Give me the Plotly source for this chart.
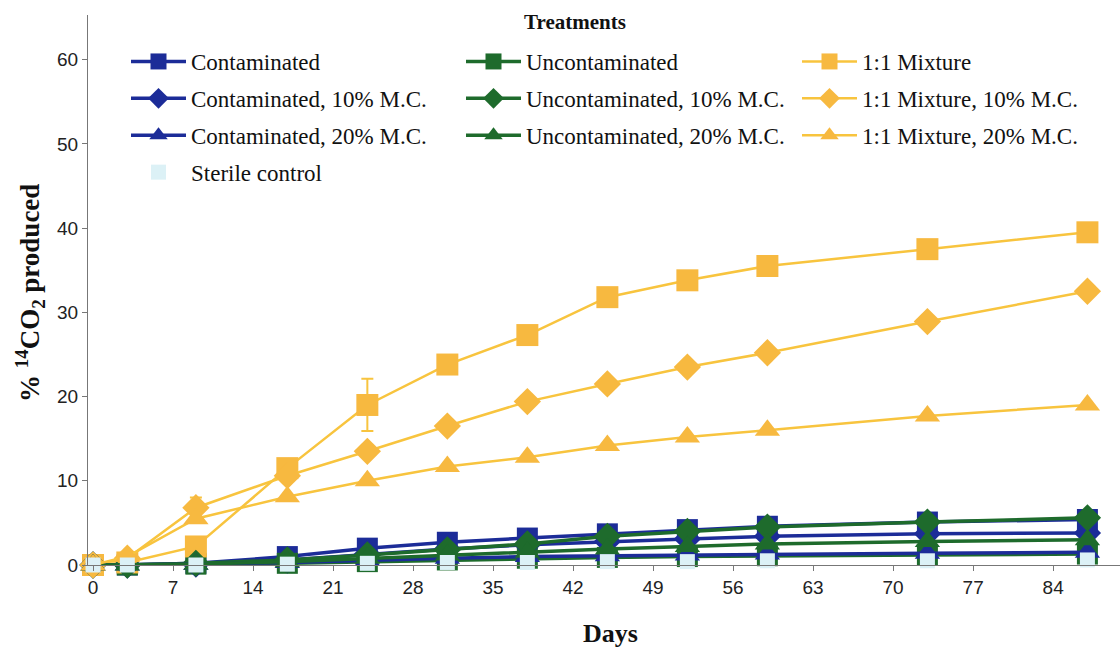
import plotly.graph_objects as go

days = [0, 3, 9, 17, 24, 31, 38, 45, 52, 59, 73, 87]

contaminated = [0, 0, 0.2, 1.0, 2.0, 2.7, 3.2, 3.7, 4.2, 4.6, 5.1, 5.4]
contaminated_10 = [0, 0, 0.1, 0.6, 1.3, 1.9, 2.4, 2.8, 3.1, 3.4, 3.7, 3.8]
contaminated_20 = [0, 0, 0.1, 0.3, 0.6, 0.8, 1.0, 1.1, 1.2, 1.3, 1.4, 1.5]
uncontaminated = [0, 0, 0.1, 0.2, 0.4, 0.6, 0.8, 0.9, 1.0, 1.1, 1.2, 1.3]
uncontaminated_10 = [0, 0, 0.2, 0.6, 1.2, 1.8, 2.5, 3.4, 4.0, 4.5, 5.1, 5.6]
uncontaminated_20 = [0, 0, 0.1, 0.4, 0.8, 1.2, 1.5, 1.9, 2.2, 2.5, 2.8, 3.0]
mixture = [0, 0.3, 2.2, 11.5, 19.0, 23.8, 27.3, 31.8, 33.8, 35.5, 37.5, 39.5]
mixture_10 = [0, 0.8, 6.8, 10.6, 13.5, 16.5, 19.4, 21.5, 23.5, 25.2, 28.9, 32.5]
mixture_20 = [0, 1.0, 5.5, 8.1, 10.0, 11.7, 12.8, 14.2, 15.2, 16.0, 17.7, 19.0]
sterile = [0, 0, 0, 0.1, 0.2, 0.3, 0.3, 0.4, 0.4, 0.5, 0.5, 0.6]

mixture_err = [0, 0, 0.5, 0.8, 3.1, 0, 0, 0, 0, 0, 0, 0]
mixture_10_err = [0, 0, 1.2, 0, 0, 0, 0, 0, 0, 0, 0, 0]

x_ticks = [0, 7, 14, 21, 28, 35, 42, 49, 56, 63, 70, 77, 84]
y_ticks = [0, 10, 20, 30, 40, 50, 60]

BLUE = "#1c2c98"
GREEN = "#1e6b2c"
YELLOW = "#f8c43e"
YMARK = "#f7b940"
STERILE = "#dcf1f6"

series = [
    ("Contaminated", contaminated, BLUE, BLUE, "square", 21, "legend", None),
    ("Uncontaminated", uncontaminated, GREEN, GREEN, "square", 21, "legend2", None),
    ("1:1 Mixture", mixture, YELLOW, YMARK, "square", 22, "legend3", mixture_err),
    ("Contaminated, 10% M.C.", contaminated_10, BLUE, BLUE, "diamond", 21, "legend", None),
    ("Uncontaminated, 10% M.C.", uncontaminated_10, GREEN, GREEN, "diamond", 21, "legend2", None),
    ("1:1 Mixture, 10% M.C.", mixture_10, YELLOW, YMARK, "diamond", 21, "legend3", mixture_10_err),
    ("Contaminated, 20% M.C.", contaminated_20, BLUE, BLUE, "triangle-up", 22, "legend", None),
    ("Uncontaminated, 20% M.C.", uncontaminated_20, GREEN, GREEN, "triangle-up", 22, "legend2", None),
    ("1:1 Mixture, 20% M.C.", mixture_20, YELLOW, YMARK, "triangle-up", 22, "legend3", None),
]

fig = go.Figure()
for i, (name, vals, lc, mc, sym, size, leg, err) in enumerate(series):
    lw = 2.5 if lc == YELLOW else 3.5
    kw = {}
    if err is not None:
        kw["error_y"] = dict(type="data", array=err, visible=True, color=YELLOW,
                             thickness=2, width=6)
    fig.add_trace(go.Scatter(
        x=days, y=vals, name=name, mode="lines+markers",
        line=dict(color=lc, width=lw),
        marker=dict(symbol=sym, size=size, color=mc, line=dict(width=0)),
        legend=leg, legendgroup=name, cliponaxis=False, **kw))

fig.add_trace(go.Scatter(
    x=days, y=sterile, name="Sterile control", mode="markers",
    marker=dict(symbol="square", size=15, color=STERILE, line=dict(width=0)),
    legend="legend", legendgroup="Sterile control", cliponaxis=False))

L, R, T, B = 88, 0, 15, 83
W, H = 1120, 648
pw, ph = W - L - R, H - T - B

def px(xp):
    return (xp - L) / pw

def py(yp):
    return (H - B - yp) / ph

legend_common = dict(
    font=dict(family="Liberation Serif, Times New Roman, serif", size=23, color="#111"),
    bgcolor="rgba(0,0,0,0)", borderwidth=0, orientation="v",
    yanchor="top", xanchor="left", tracegroupgap=4, itemwidth=55,
    itemsizing="trace",
)

fig.update_layout(
    width=W, height=H,
    margin=dict(l=L, r=R, t=T, b=B, autoexpand=False),
    paper_bgcolor="white", plot_bgcolor="white",
    showlegend=True,
    legend=dict(x=px(126), y=py(40), **legend_common),
    legend2=dict(x=px(461), y=py(40), **legend_common),
    legend3=dict(x=px(797), y=py(40), **legend_common),
    xaxis=dict(
        range=[-0.44, 89.85], tickvals=x_ticks, ticktext=[str(v) for v in x_ticks],
        showgrid=False, zeroline=False, showline=True, linecolor="#777", linewidth=1,
        ticks="outside", ticklen=5, tickcolor="#777", automargin=False,
        tickfont=dict(family="Liberation Sans, Arial, sans-serif", size=19, color="#222"),
    ),
    yaxis=dict(
        range=[0, 65.3], tickvals=y_ticks, ticktext=[str(v) for v in y_ticks],
        showgrid=False, zeroline=False, showline=True, linecolor="#777", linewidth=1,
        ticks="outside", ticklen=5, tickcolor="#777", automargin=False,
        tickfont=dict(family="Liberation Sans, Arial, sans-serif", size=19, color="#222"),
    ),
    annotations=[
        dict(text="<b>Treatments</b>", x=px(575), y=py(22), xref="paper", yref="paper",
             showarrow=False, xanchor="center", yanchor="middle",
             font=dict(family="Liberation Serif, Times New Roman, serif", size=21, color="#111")),
        dict(text="<b>Days</b>", x=px(610), y=py(633), xref="paper", yref="paper",
             showarrow=False, xanchor="center", yanchor="middle",
             font=dict(family="Liberation Serif, Times New Roman, serif", size=26, color="#111")),
        dict(text="<b>% <sup>14</sup>CO<sub>2</sub> produced</b>", x=px(30), y=py(293),
             xref="paper", yref="paper", showarrow=False, textangle=-90,
             xanchor="center", yanchor="middle",
             font=dict(family="Liberation Serif, Times New Roman, serif", size=27, color="#111")),
    ],
)

fig.write_html("out.html",
               config={"displayModeBar": False},
               post_script="document.body.style.margin='0';document.body.style.overflow='hidden';")
